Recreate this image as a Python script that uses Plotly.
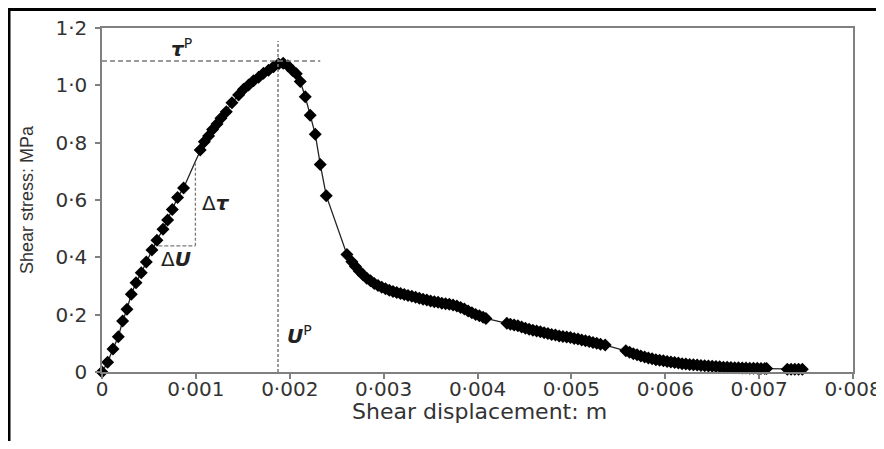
import plotly.graph_objects as go

# ---- data (shear displacement in m, shear stress in MPa) ----
disp_rise = [0, 0.00006, 0.000117, 0.000174, 0.00022, 0.000266, 0.000312, 0.000362,
             0.000418, 0.000472, 0.000532, 0.000585, 0.00065, 0.000699, 0.000749,
             0.000805, 0.000869, 0.000986, 0.001046, 0.00109, 0.001135, 0.001178,
             0.001225, 0.001267, 0.001324, 0.001384, 0.001455, 0.001508, 0.001561,
             0.001614, 0.001668, 0.00172, 0.001774, 0.001827, 0.00188, 0.00193]
stress_rise = [0, 0.034, 0.080, 0.123, 0.178, 0.219, 0.271, 0.311,
               0.346, 0.384, 0.426, 0.460, 0.498, 0.530, 0.567,
               0.609, 0.642, 0.728, 0.774, 0.803, 0.823, 0.846,
               0.865, 0.885, 0.908, 0.939, 0.966, 0.986, 1.001,
               1.016, 1.028, 1.042, 1.053, 1.065, 1.074, 1.077]

disp_fall = [0.00198, 0.00203, 0.00207, 0.002112, 0.002165, 0.002218, 0.002272,
             0.002325, 0.002389, 0.002609,
             0.002662, 0.0027, 0.00274, 0.00278, 0.00282, 0.00286, 0.0029, 0.00294,
             0.00298, 0.00302, 0.00306, 0.0031, 0.00314, 0.00318, 0.00322, 0.00326,
             0.0033, 0.00334, 0.00338, 0.00342, 0.00346, 0.0035, 0.00354, 0.00358,
             0.00362, 0.00366, 0.0037, 0.00374, 0.00378, 0.00382, 0.00386, 0.0039,
             0.00394, 0.00398, 0.00402, 0.00406, 0.00409,
             0.004313, 0.00435, 0.00439, 0.00443, 0.00447, 0.00451, 0.00455, 0.00459,
             0.00463, 0.00467, 0.00471, 0.00475, 0.00479, 0.00483, 0.00487, 0.00491,
             0.00495, 0.00499, 0.00503, 0.00507, 0.00511, 0.00515, 0.00519, 0.00523,
             0.00527, 0.00531, 0.00536,
             0.00558, 0.00562, 0.00566, 0.0057, 0.00574, 0.00578, 0.00582, 0.00586,
             0.0059, 0.00594, 0.00598, 0.00602, 0.00606, 0.0061, 0.00614, 0.00618,
             0.00622, 0.00626, 0.0063, 0.00634, 0.00638, 0.00642, 0.00646, 0.0065,
             0.00654, 0.00658, 0.00662, 0.00666, 0.0067, 0.00674, 0.00678, 0.00682,
             0.00686, 0.0069, 0.00694, 0.00698, 0.00702, 0.00706, 0.00708,
             0.0073, 0.00734, 0.00738, 0.00742, 0.00746]
stress_fall = [1.068, 1.052, 1.040, 1.013, 0.960, 0.896, 0.829,
               0.724, 0.615, 0.410,
               0.385, 0.368, 0.352, 0.339, 0.327, 0.318, 0.309, 0.302,
               0.296, 0.290, 0.285, 0.281, 0.277, 0.274, 0.270, 0.267,
               0.264, 0.261, 0.257, 0.254, 0.251, 0.248, 0.245, 0.243,
               0.240, 0.238, 0.236, 0.234, 0.230, 0.225, 0.220, 0.213,
               0.207, 0.201, 0.196, 0.191, 0.187,
               0.170, 0.167, 0.164, 0.161, 0.157, 0.153, 0.149, 0.146,
               0.143, 0.140, 0.137, 0.134, 0.131, 0.129, 0.126, 0.124,
               0.122, 0.120, 0.117, 0.115, 0.112, 0.109, 0.106, 0.103,
               0.100, 0.097, 0.094,
               0.074, 0.069, 0.064, 0.060, 0.056, 0.052, 0.049, 0.046,
               0.043, 0.041, 0.039, 0.037, 0.035, 0.033, 0.031, 0.029,
               0.028, 0.026, 0.025, 0.024, 0.023, 0.022, 0.021, 0.020,
               0.019, 0.018, 0.017, 0.017, 0.016, 0.015, 0.015, 0.014,
               0.014, 0.013, 0.013, 0.013, 0.012, 0.012, 0.012,
               0.010, 0.010, 0.010, 0.010, 0.010]

# point on the curve drawn without a marker (kink in the line)
unmarked_points = [(0.000986, 0.728)]

peak_disp = 0.001875
peak_stress = 1.085
delta_u_start = 0.0006
delta_u_end = 0.000995
delta_tau_low = 0.44
delta_tau_high = 0.728

x_tickvals = [0, 0.001, 0.002, 0.003, 0.004, 0.005, 0.006, 0.007, 0.008]
x_ticktext = ["0", "0·001", "0·002", "0·003", "0·004", "0·005", "0·006", "0·007", "0·008"]
y_tickvals = [0, 0.2, 0.4, 0.6, 0.8, 1.0, 1.2]
y_ticktext = ["0", "0·2", "0·4", "0·6", "0·8", "1·0", "1·2"]

x_title = "Shear displacement: m"
y_title = "Shear stress: MPa"

# ---- figure ----
xs = disp_rise + disp_fall
ys = stress_rise + stress_fall
unmarked = set(unmarked_points)
sizes = [0 if (a, b) in unmarked else 10 for a, b in zip(xs, ys)]

fig = go.Figure()
fig.add_trace(go.Scatter(
    x=xs, y=ys, mode="lines+markers",
    line=dict(color="#222222", width=1.3),
    marker=dict(symbol="diamond", size=sizes, color="#000000", opacity=1, line=dict(width=0)),
    opacity=1, cliponaxis=False, showlegend=False, hoverinfo="x+y",
))

dash_col = "#7a7a7a"
fig.add_shape(type="line", x0=0, x1=0.002325, y0=peak_stress, y1=peak_stress,
              xref="x", yref="y", line=dict(color=dash_col, width=1.5, dash="5px,3px"))
fig.add_shape(type="line", x0=peak_disp, x1=peak_disp, y0=0, y1=1.155,
              xref="x", yref="y", line=dict(color=dash_col, width=1.5, dash="3px,2px"))
fig.add_shape(type="line", x0=delta_u_start, x1=delta_u_end, y0=delta_tau_low, y1=delta_tau_low,
              xref="x", yref="y", line=dict(color=dash_col, width=1.3, dash="4px,2px"))
fig.add_shape(type="line", x0=delta_u_end, x1=delta_u_end, y0=delta_tau_low, y1=delta_tau_high,
              xref="x", yref="y", line=dict(color=dash_col, width=1.3, dash="3px,2px"))

# page layout (the page body adds an 8 px offset on every side)
OFF = 8
WIN_W, WIN_H = 884, 449
plot_left, plot_right, plot_top, plot_bottom = 102, 853, 28, 372  # in window pixels
W, H = WIN_W - OFF, WIN_H - 2 * OFF
L, R = plot_left - OFF, (OFF + W) - plot_right
T, B = plot_top - OFF, (OFF + H) - plot_bottom
pw, ph = plot_right - plot_left, plot_bottom - plot_top

def px(xp):
    return (xp - plot_left) / pw

def py(yp):
    return (plot_bottom - yp) / ph

# outer frame: top and left black rules
fig.add_shape(type="line", xref="paper", yref="paper", x0=px(9), x1=px(900), y0=py(9.5), y1=py(9.5),
              line=dict(color="black", width=3))
fig.add_shape(type="line", xref="paper", yref="paper", x0=px(9), x1=px(9), y0=py(8), y1=py(470),
              line=dict(color="black", width=3))

ann_font = dict(family="DejaVu Sans, sans-serif", size=20, color="#222222")
fig.add_annotation(x=0.000852, y=1.13, xref="x", yref="y", showarrow=False,
                   text="<b><i>τ</i></b><sup>P</sup>", font=ann_font)
fig.add_annotation(x=0.000783, y=0.394, xref="x", yref="y", showarrow=False,
                   text="Δ<b><i>U</i></b>", font=ann_font)
fig.add_annotation(x=0.001215, y=0.588, xref="x", yref="y", showarrow=False,
                   text="Δ<b><i>τ</i></b>", font=ann_font)
fig.add_annotation(x=0.0021, y=0.129, xref="x", yref="y", showarrow=False,
                   text="<b><i>U</i></b><sup>P</sup>", font=ann_font)

fig.add_annotation(x=px(479), y=py(411), xref="paper", yref="paper", showarrow=False,
                   text=x_title, xanchor="center", yanchor="middle",
                   font=dict(family="DejaVu Sans, sans-serif", size=22, color="#333333"))
fig.add_annotation(x=px(27), y=py(200), xref="paper", yref="paper", showarrow=False,
                   text=y_title, textangle=-90, xanchor="center", yanchor="middle",
                   font=dict(family="Liberation Sans, Arial, sans-serif", size=18, color="#333333"))

axis_common = dict(showline=True, mirror=True, linecolor="#808080", linewidth=1.5,
                   showgrid=False, zeroline=False, ticks="outside", ticklen=5,
                   tickcolor="#808080", tickwidth=1.5, automargin=False,
                   tickfont=dict(family="DejaVu Sans, sans-serif", size=20, color="#333333"))
fig.update_xaxes(range=[0, 0.008], tickvals=x_tickvals, ticktext=x_ticktext,
                 ticklabelstandoff=-7, **axis_common)
fig.update_yaxes(range=[0, 1.2], tickvals=y_tickvals, ticktext=y_ticktext,
                 ticklabelstandoff=4, **axis_common)

fig.update_layout(width=W, height=H, margin=dict(l=L, r=R, t=T, b=B, pad=0, autoexpand=False),
                  plot_bgcolor="white", paper_bgcolor="white", showlegend=False)

fig.write_html("out.html")
